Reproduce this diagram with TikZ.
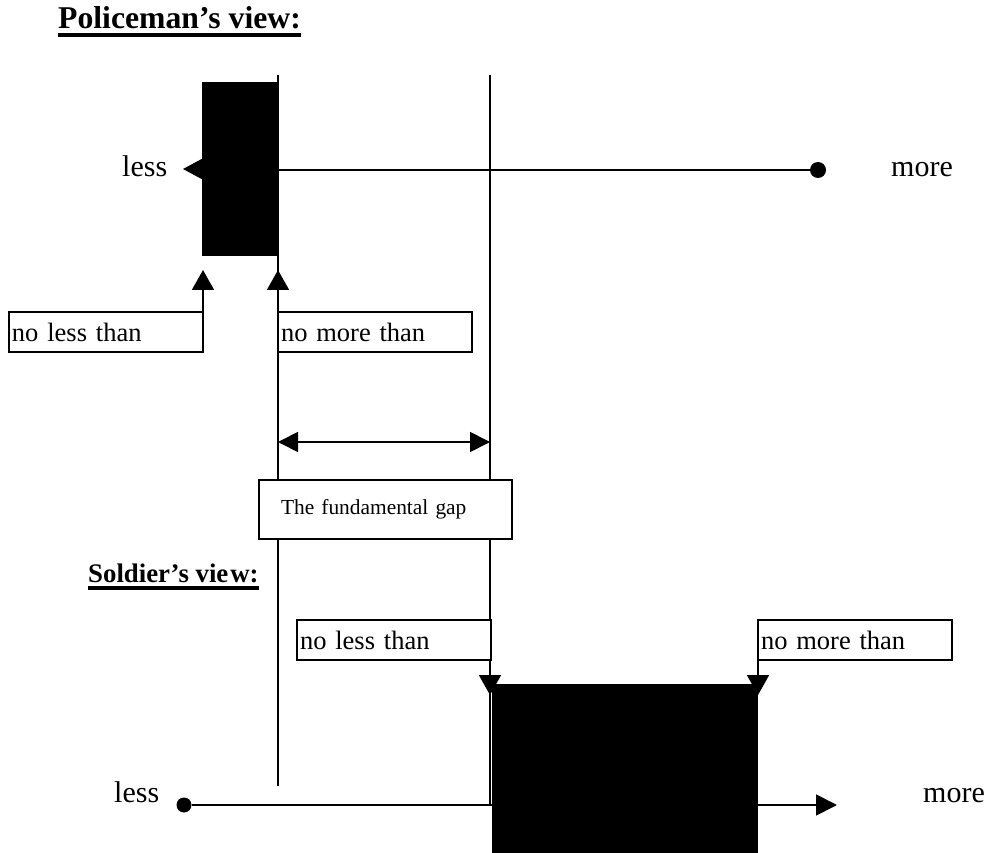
\documentclass[tikz,border=0pt]{standalone}
\usepackage{fontspec}
\setmainfont{Liberation Serif}
\usetikzlibrary{arrows.meta}
\begin{document}
\begin{tikzpicture}[x=1pt,y=-1pt,
  ln/.style={line width=1.8pt},
  lbl/.style={draw, line width=1.8pt, fill=white, outer sep=0pt, minimum width=194pt, minimum height=40pt, text width=188pt, inner xsep=3pt, inner ysep=0pt, align=left, anchor=north west, font=\fontsize{26.5}{28}\selectfont},
  word/.style={font=\fontsize{30}{32}\selectfont, inner sep=0pt, anchor=base west},
  bar/.style={fill=black, inner sep=0pt, outer sep=0pt, anchor=north west},
  tip/.style={-{Triangle[length=20pt,width=22pt]}},
  dot/.style={circle, fill=black, inner sep=0pt, minimum size=16pt},
  title/.style={font=\fontsize{31.7}{34}\selectfont\bfseries, inner sep=0pt, anchor=base west},
  uline/.style={line width=4pt}]
\useasboundingbox (0,0) rectangle (989,853);

% titles
\node[title] (pt) at (58,29) {Policeman’s view:};
\draw[uline] ([yshift=-5.8pt]pt.base west) -- ([yshift=-5.8pt]pt.base east);
\node[title, font=\fontsize{26.8}{29}\selectfont\bfseries] (st) at (88,582) {Soldier’s vie\kern2pt w:};
\draw[uline] ([yshift=-6pt]st.base west) -- ([yshift=-6pt]st.base east);

% long vertical lines
\coordinate (a1) at (278,75); \coordinate (a2) at (278,786);
\coordinate (b1) at (490,75); \coordinate (b2) at (490,806);
\draw[ln] (a1) -- (a2);
\draw[ln] (b1) -- (b2);

% policeman's view
\node[bar, minimum width=76pt, minimum height=174pt] (pbar) at (202,82) {};
\node[dot] (pdot) at (818,170) {};
\coordinate (ph) at (278,170);
\draw[ln] (ph) -- (pdot);
\draw[-{Triangle[length=19pt,width=20pt]}, ln] (pbar.west) -- ++(-19,0);
\node[word] (pless) at (122,177) {less};
\node[word] (pmore) at (891,177) {more};

\node[lbl] (pnl) at (9,312) {no less than};
\node[lbl] (pnm) at (278,312) {no more than};
\draw[ln, tip] (pnl.north east) -- ++(0,-42);
\draw[ln, tip] (pnm.north west) -- ++(0,-42);

% fundamental gap
\coordinate (g1) at (278,442); \coordinate (g2) at (490,442);
\draw[ln, {Triangle[length=20pt,width=20pt]}-{Triangle[length=20pt,width=20pt]}] (g1) -- (g2);
\node[draw, ln, fill=white, outer sep=0pt, minimum width=253pt, minimum height=59pt, text width=209pt, inner xsep=22pt, inner ysep=0pt, align=left, anchor=north west, font=\fontsize{21.4}{23}\selectfont] (gap) at (259,480) {The fundamental gap};

% soldier's view
\node[lbl] (snl) at (297,620) {no less than};
\node[lbl] (snm) at (758,620) {no more than};
\coordinate (d1) at (490,660);
\draw[ln, tip] (d1) -- ++(0,35);
\draw[ln, tip] (snm.south west) -- ++(0,35);

\node[dot, minimum size=15pt] (sdot) at (184,805) {};
\coordinate (se) at (837,805);
\draw[ln, -{Triangle[length=21pt,width=21pt]}] (sdot) -- (se);
\node[bar, minimum width=266pt, minimum height=170pt] (sbar) at (492,684) {};
\node[word] (sless) at (114,802) {less};
\node[word] (smore) at (923,802) {more};
\end{tikzpicture}
\end{document}
